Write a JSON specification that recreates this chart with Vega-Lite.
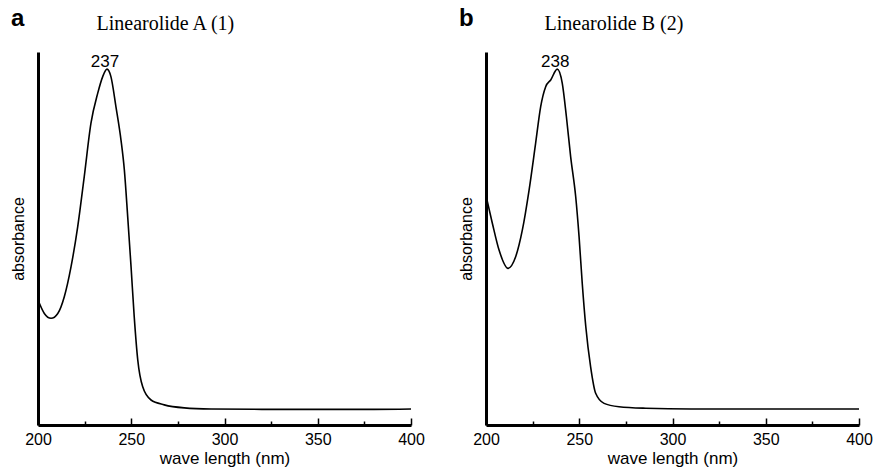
{
  "$schema": "https://vega.github.io/schema/vega-lite/v6.json",
  "background": "white",
  "padding": {"left": 10, "top": 7, "right": 2, "bottom": 2},
  "bounds": "flush",
  "spacing": 75,
  "config": {
    "view": {"stroke": null},
    "font": "Liberation Sans",
    "axis": {"grid": false, "domainColor": "black", "tickColor": "black", "labelColor": "black", "titleColor": "black", "titleFontWeight": "normal"}
  },
  "datasets": {
    "curves": [
      {"panel": "a", "wl": 200, "abs": 0.335},
      {"panel": "a", "wl": 203.4, "abs": 0.299},
      {"panel": "a", "wl": 207, "abs": 0.286},
      {"panel": "a", "wl": 210.6, "abs": 0.299},
      {"panel": "a", "wl": 214.1, "abs": 0.344},
      {"panel": "a", "wl": 217.7, "abs": 0.424},
      {"panel": "a", "wl": 221.3, "abs": 0.532},
      {"panel": "a", "wl": 224.8, "abs": 0.666},
      {"panel": "a", "wl": 228.4, "abs": 0.809},
      {"panel": "a", "wl": 232, "abs": 0.889},
      {"panel": "a", "wl": 234.7, "abs": 0.934},
      {"panel": "a", "wl": 237, "abs": 0.954},
      {"panel": "a", "wl": 239.1, "abs": 0.934},
      {"panel": "a", "wl": 241.8, "abs": 0.853},
      {"panel": "a", "wl": 244.5, "abs": 0.764},
      {"panel": "a", "wl": 246.3, "abs": 0.684},
      {"panel": "a", "wl": 248.1, "abs": 0.558},
      {"panel": "a", "wl": 249.9, "abs": 0.424},
      {"panel": "a", "wl": 251.6, "abs": 0.29},
      {"panel": "a", "wl": 253.5, "abs": 0.174},
      {"panel": "a", "wl": 256.1, "abs": 0.103},
      {"panel": "a", "wl": 260.6, "abs": 0.067},
      {"panel": "a", "wl": 267.7, "abs": 0.054},
      {"panel": "a", "wl": 278.4, "abs": 0.046},
      {"panel": "a", "wl": 292.8, "abs": 0.043},
      {"panel": "a", "wl": 320, "abs": 0.042},
      {"panel": "a", "wl": 350, "abs": 0.042},
      {"panel": "a", "wl": 380, "abs": 0.042},
      {"panel": "a", "wl": 400, "abs": 0.043},
      {"panel": "b", "wl": 200, "abs": 0.615},
      {"panel": "b", "wl": 203.4, "abs": 0.541},
      {"panel": "b", "wl": 207, "abs": 0.469},
      {"panel": "b", "wl": 211.8, "abs": 0.42},
      {"panel": "b", "wl": 215.9, "abs": 0.451},
      {"panel": "b", "wl": 219.5, "abs": 0.523},
      {"panel": "b", "wl": 223.1, "abs": 0.63},
      {"panel": "b", "wl": 226.6, "abs": 0.755},
      {"panel": "b", "wl": 229.3, "abs": 0.853},
      {"panel": "b", "wl": 232, "abs": 0.907},
      {"panel": "b", "wl": 234.7, "abs": 0.925},
      {"panel": "b", "wl": 238.2, "abs": 0.954},
      {"panel": "b", "wl": 240.9, "abs": 0.916},
      {"panel": "b", "wl": 243.1, "abs": 0.827},
      {"panel": "b", "wl": 245.4, "abs": 0.719},
      {"panel": "b", "wl": 248.1, "abs": 0.612},
      {"panel": "b", "wl": 249.9, "abs": 0.505},
      {"panel": "b", "wl": 251.6, "abs": 0.38},
      {"panel": "b", "wl": 253.5, "abs": 0.264},
      {"panel": "b", "wl": 256.1, "abs": 0.156},
      {"panel": "b", "wl": 258.8, "abs": 0.085},
      {"panel": "b", "wl": 263.3, "abs": 0.058},
      {"panel": "b", "wl": 271.3, "abs": 0.049},
      {"panel": "b", "wl": 285.6, "abs": 0.045},
      {"panel": "b", "wl": 310, "abs": 0.043},
      {"panel": "b", "wl": 350, "abs": 0.043},
      {"panel": "b", "wl": 400, "abs": 0.043}
    ],
    "peaks": [
      {"panel": "a", "wl": 237, "abs": 0.954, "label": "237"},
      {"panel": "b", "wl": 238.2, "abs": 0.954, "label": "238"}
    ]
  },
  "hconcat": [
    {
      "width": 373,
      "height": 373,
      "title": {"text": "a", "anchor": "start", "frame": "group", "dx": -27, "dy": 22, "fontSize": 24, "fontWeight": "bold", "font": "Liberation Sans", "color": "black"},
      "resolve": {"axis": {"x": "independent"}},
      "layer": [
        {
          "data": {"name": "curves"},
          "transform": [{"filter": "datum.panel === 'a'"}],
          "mark": {"type": "line", "interpolate": "monotone", "color": "black", "strokeWidth": 1.6},
          "encoding": {
            "x": {"field": "wl", "type": "quantitative", "scale": {"domain": [200, 400], "nice": false},
              "axis": {"values": [200, 225, 250, 275, 300, 325, 350, 375, 400], "labelExpr": "datum.value % 50 === 0 ? datum.label : ''",
                "tickSize": {"condition": {"test": "datum.value % 50 !== 0", "value": -4}, "value": -7},
                "tickWidth": 1.5, "domainWidth": 3, "labelFontSize": 16, "labelPadding": 13, "labelFlush": false,
                "title": "wave length (nm)", "titleFontSize": 17, "titlePadding": 3}},
            "y": {"field": "abs", "type": "quantitative", "scale": {"domain": [0, 1], "nice": false},
              "axis": {"title": "absorbance", "ticks": false, "labels": false, "domainWidth": 3, "titleFontSize": 16, "titlePadding": 12}}
          }
        },
        {
          "data": {"name": "peaks"},
          "transform": [{"filter": "datum.panel === 'a'"}],
          "mark": {"type": "text", "baseline": "alphabetic", "dy": -2, "dx": -2, "fontSize": 17, "color": "black"},
          "encoding": {
            "x": {"field": "wl", "type": "quantitative",
              "axis": {"orient": "top", "title": "Linearolide A (1)", "domain": false, "ticks": false, "labels": false,
                "titleFont": "Liberation Serif", "titleFontSize": 20, "titleX": 58, "titleY": -29, "titleAlign": "left", "titleBaseline": "middle", "titleAngle": 0}},
            "y": {"field": "abs", "type": "quantitative",
              "axis": {"title": "absorbance", "ticks": false, "labels": false, "domainWidth": 3, "titleFontSize": 16, "titlePadding": 12}},
            "text": {"field": "label"}
          }
        }
      ]
    },
    {
      "width": 373,
      "height": 373,
      "title": {"text": "b", "anchor": "start", "frame": "group", "dx": -27, "dy": 22, "fontSize": 24, "fontWeight": "bold", "font": "Liberation Sans", "color": "black"},
      "resolve": {"axis": {"x": "independent"}},
      "layer": [
        {
          "data": {"name": "curves"},
          "transform": [{"filter": "datum.panel === 'b'"}],
          "mark": {"type": "line", "interpolate": "monotone", "color": "black", "strokeWidth": 1.6},
          "encoding": {
            "x": {"field": "wl", "type": "quantitative", "scale": {"domain": [200, 400], "nice": false},
              "axis": {"values": [200, 225, 250, 275, 300, 325, 350, 375, 400], "labelExpr": "datum.value % 50 === 0 ? datum.label : ''",
                "tickSize": {"condition": {"test": "datum.value % 50 !== 0", "value": -4}, "value": -7},
                "tickWidth": 1.5, "domainWidth": 3, "labelFontSize": 16, "labelPadding": 13, "labelFlush": false,
                "title": "wave length (nm)", "titleFontSize": 17, "titlePadding": 3}},
            "y": {"field": "abs", "type": "quantitative", "scale": {"domain": [0, 1], "nice": false},
              "axis": {"title": "absorbance", "ticks": false, "labels": false, "domainWidth": 3, "titleFontSize": 16, "titlePadding": 12}}
          }
        },
        {
          "data": {"name": "peaks"},
          "transform": [{"filter": "datum.panel === 'b'"}],
          "mark": {"type": "text", "baseline": "alphabetic", "dy": -2, "dx": -2, "fontSize": 17, "color": "black"},
          "encoding": {
            "x": {"field": "wl", "type": "quantitative",
              "axis": {"orient": "top", "title": "Linearolide B (2)", "domain": false, "ticks": false, "labels": false,
                "titleFont": "Liberation Serif", "titleFontSize": 20, "titleX": 58, "titleY": -29, "titleAlign": "left", "titleBaseline": "middle", "titleAngle": 0}},
            "y": {"field": "abs", "type": "quantitative",
              "axis": {"title": "absorbance", "ticks": false, "labels": false, "domainWidth": 3, "titleFontSize": 16, "titlePadding": 12}},
            "text": {"field": "label"}
          }
        }
      ]
    }
  ]
}
